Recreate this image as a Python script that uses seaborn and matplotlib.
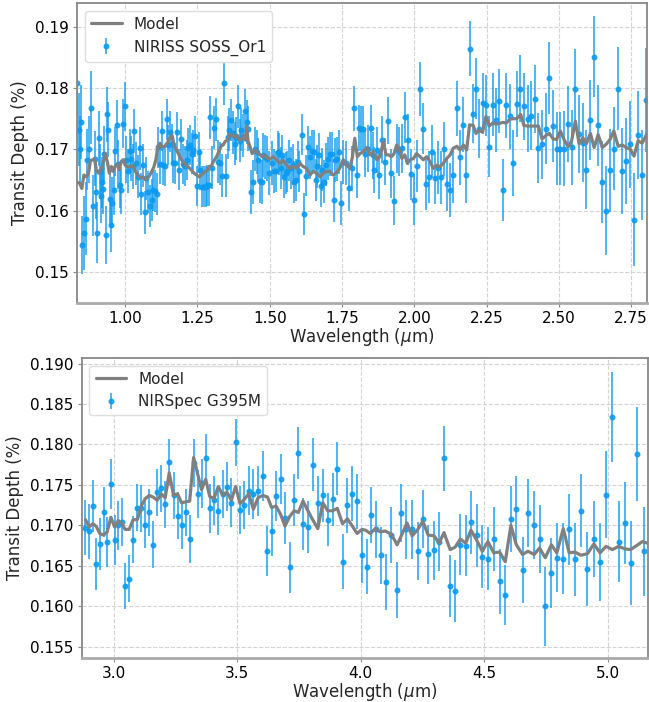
# -----------------------------
# Transmission spectrum: NIRISS SOSS + NIRSpec G395M
# -----------------------------

import numpy as np
import pandas as pd
import matplotlib
matplotlib.use("Agg")
import matplotlib.pyplot as plt
from matplotlib.ticker import MultipleLocator
import seaborn as sns

# -----------------------------
# 1. Data
# -----------------------------

# NIRISS SOSS order 1
soss_wl = [
    0.834, 0.841, 0.844, 0.848, 0.850, 0.859, 0.865, 0.868, 0.876, 0.882,
    0.888, 0.894, 0.900, 0.903, 0.908, 0.913, 0.917, 0.920, 0.923, 0.926,
    0.932, 0.936, 0.940, 0.946, 0.952, 0.954, 0.961, 0.965, 0.970, 0.976,
    0.982, 0.987, 0.993, 0.998, 1.003, 1.009, 1.015, 1.021, 1.027, 1.032,
    1.038, 1.044, 1.051, 1.055, 1.061, 1.067, 1.073, 1.079, 1.085, 1.091,
    1.097, 1.103, 1.109, 1.115, 1.120, 1.126, 1.132, 1.137, 1.143, 1.149,
    1.155, 1.161, 1.166, 1.172, 1.179, 1.185, 1.194, 1.201, 1.207, 1.212,
    1.218, 1.224, 1.230, 1.236, 1.241, 1.247, 1.254, 1.260, 1.267, 1.273,
    1.278, 1.284, 1.290, 1.294, 1.301, 1.308, 1.315, 1.322, 1.328, 1.334,
    1.342, 1.349, 1.355, 1.360, 1.366, 1.372, 1.378, 1.383, 1.390, 1.396,
    1.402, 1.408, 1.415, 1.420, 1.425, 1.436, 1.443, 1.449, 1.455, 1.461,
    1.467, 1.472, 1.478, 1.484, 1.491, 1.498, 1.506, 1.513, 1.521, 1.527,
    1.532, 1.538, 1.544, 1.550, 1.555, 1.561, 1.567, 1.573, 1.579, 1.584,
    1.590, 1.596, 1.602, 1.610, 1.617, 1.625, 1.633, 1.640, 1.645, 1.652,
    1.659, 1.665, 1.671, 1.677, 1.682, 1.688, 1.696, 1.702, 1.708, 1.714,
    1.721, 1.726, 1.732, 1.738, 1.747, 1.755, 1.764, 1.775, 1.783, 1.793,
    1.803, 1.809, 1.815, 1.821, 1.831, 1.841, 1.850, 1.856, 1.861, 1.870,
    1.879, 1.889, 1.898, 1.909, 1.918, 1.928, 1.939, 1.948, 1.957, 1.968,
    1.977, 1.990, 1.998, 2.009, 2.018, 2.029, 2.039, 2.050, 2.060, 2.070,
    2.081, 2.092, 2.103, 2.114, 2.125, 2.135, 2.147, 2.157, 2.169, 2.180,
    2.191, 2.203, 2.213, 2.225, 2.236, 2.248, 2.259, 2.271, 2.282, 2.294,
    2.305, 2.318, 2.330, 2.342, 2.354, 2.367, 2.379, 2.392, 2.405, 2.416,
    2.429, 2.442, 2.454, 2.467, 2.480, 2.493, 2.505, 2.519, 2.532, 2.544,
    2.557, 2.569, 2.582, 2.595, 2.608, 2.621, 2.636, 2.650, 2.663, 2.677,
    2.690, 2.705, 2.719, 2.733, 2.747, 2.760, 2.774, 2.788, 2.803,
]
soss_depth = [
    0.1809, 0.1732, 0.1700, 0.1745, 0.1544, 0.1563, 0.1587, 0.1683, 0.1700, 0.1768,
    0.1608, 0.1685, 0.1631, 0.1564, 0.1718, 0.1664, 0.1624, 0.1646, 0.1636, 0.1693,
    0.1560, 0.1757, 0.1732, 0.1619, 0.1577, 0.1613, 0.1633, 0.1697, 0.1739, 0.1676,
    0.1642, 0.1633, 0.1742, 0.1770, 0.1683, 0.1665, 0.1698, 0.1685, 0.1672, 0.1730,
    0.1677, 0.1655, 0.1702, 0.1627, 0.1674, 0.1597, 0.1653, 0.1630, 0.1607, 0.1617,
    0.1634, 0.1632, 0.1627, 0.1703, 0.1676, 0.1730, 0.1674, 0.1673, 0.1749, 0.1707,
    0.1729, 0.1709, 0.1678, 0.1677, 0.1728, 0.1667, 0.1717, 0.1676, 0.1673, 0.1683,
    0.1702, 0.1707, 0.1693, 0.1699, 0.1721, 0.1640, 0.1695, 0.1667, 0.1639, 0.1639,
    0.1639, 0.1641, 0.1641, 0.1752, 0.1670, 0.1735, 0.1749, 0.1680, 0.1677, 0.1657,
    0.1808, 0.1657, 0.1720, 0.1732, 0.1748, 0.1727, 0.1709, 0.1718, 0.1770, 0.1714,
    0.1732, 0.1722, 0.1763, 0.1745, 0.1734, 0.1631, 0.1647, 0.1700, 0.1696, 0.1683,
    0.1649, 0.1647, 0.1690, 0.1688, 0.1685, 0.1661, 0.1677, 0.1665, 0.1664, 0.1696,
    0.1692, 0.1669, 0.1690, 0.1655, 0.1661, 0.1664, 0.1682, 0.1669, 0.1675, 0.1647,
    0.1650, 0.1680, 0.1664, 0.1724, 0.1594, 0.1657, 0.1703, 0.1687, 0.1697, 0.1696,
    0.1650, 0.1672, 0.1691, 0.1640, 0.1667, 0.1647, 0.1675, 0.1685, 0.1692, 0.1693,
    0.1618, 0.1683, 0.1684, 0.1696, 0.1612, 0.1680, 0.1677, 0.1637, 0.1669, 0.1767,
    0.1658, 0.1735, 0.1734, 0.1733, 0.1693, 0.1701, 0.1735, 0.1690, 0.1666, 0.1699,
    0.1658, 0.1716, 0.1680, 0.1747, 0.1661, 0.1616, 0.1702, 0.1697, 0.1702, 0.1752,
    0.1716, 0.1659, 0.1618, 0.1673, 0.1798, 0.1734, 0.1643, 0.1655, 0.1696, 0.1653,
    0.1670, 0.1654, 0.1700, 0.1643, 0.1634, 0.1658, 0.1767, 0.1687, 0.1740, 0.1658,
    0.1864, 0.1758, 0.1799, 0.1734, 0.1775, 0.1772, 0.1704, 0.1773, 0.1748, 0.1779,
    0.1634, 0.1772, 0.1754, 0.1677, 0.1774, 0.1799, 0.1770, 0.1750, 0.1755, 0.1782,
    0.1702, 0.1708, 0.1734, 0.1817, 0.1738, 0.1701, 0.1701, 0.1701, 0.1741, 0.1703,
    0.1799, 0.1725, 0.1711, 0.1667, 0.1748, 0.1851, 0.1739, 0.1647, 0.1600, 0.1666,
    0.1701, 0.1799, 0.1665, 0.1681, 0.1708, 0.1585, 0.1723, 0.1658, 0.1780,
]
soss_err = [
    0.0086, 0.0060, 0.0055, 0.0060, 0.0047, 0.0060, 0.0060, 0.0050, 0.0055, 0.0060,
    0.0050, 0.0045, 0.0045, 0.0050, 0.0045, 0.0045, 0.0045, 0.0042, 0.0042, 0.0045,
    0.0048, 0.0045, 0.0045, 0.0042, 0.0045, 0.0042, 0.0040, 0.0040, 0.0042, 0.0040,
    0.0038, 0.0038, 0.0040, 0.0040, 0.0038, 0.0036, 0.0036, 0.0036, 0.0036, 0.0036,
    0.0035, 0.0035, 0.0035, 0.0035, 0.0035, 0.0035, 0.0035, 0.0034, 0.0034, 0.0034,
    0.0034, 0.0034, 0.0034, 0.0034, 0.0033, 0.0033, 0.0033, 0.0033, 0.0033, 0.0033,
    0.0033, 0.0033, 0.0033, 0.0033, 0.0033, 0.0033, 0.0033, 0.0033, 0.0033, 0.0033,
    0.0033, 0.0033, 0.0033, 0.0033, 0.0033, 0.0033, 0.0033, 0.0033, 0.0033, 0.0033,
    0.0033, 0.0033, 0.0033, 0.0035, 0.0035, 0.0035, 0.0035, 0.0035, 0.0035, 0.0035,
    0.0035, 0.0035, 0.0035, 0.0035, 0.0035, 0.0035, 0.0035, 0.0035, 0.0035, 0.0035,
    0.0035, 0.0035, 0.0036, 0.0036, 0.0036, 0.0036, 0.0036, 0.0036, 0.0036, 0.0036,
    0.0036, 0.0036, 0.0036, 0.0036, 0.0036, 0.0036, 0.0036, 0.0036, 0.0034, 0.0034,
    0.0034, 0.0034, 0.0034, 0.0034, 0.0034, 0.0034, 0.0034, 0.0034, 0.0034, 0.0034,
    0.0034, 0.0034, 0.0034, 0.0034, 0.0034, 0.0034, 0.0035, 0.0035, 0.0035, 0.0035,
    0.0035, 0.0035, 0.0035, 0.0035, 0.0035, 0.0035, 0.0035, 0.0035, 0.0036, 0.0036,
    0.0036, 0.0036, 0.0036, 0.0036, 0.0036, 0.0036, 0.0036, 0.0037, 0.0037, 0.0037,
    0.0037, 0.0037, 0.0037, 0.0037, 0.0038, 0.0038, 0.0038, 0.0038, 0.0038, 0.0038,
    0.0039, 0.0039, 0.0039, 0.0039, 0.0040, 0.0040, 0.0040, 0.0040, 0.0040, 0.0041,
    0.0041, 0.0041, 0.0042, 0.0042, 0.0044, 0.0042, 0.0042, 0.0043, 0.0043, 0.0043,
    0.0043, 0.0044, 0.0044, 0.0044, 0.0044, 0.0045, 0.0045, 0.0045, 0.0045, 0.0045,
    0.0045, 0.0048, 0.0050, 0.0048, 0.0050, 0.0050, 0.0050, 0.0052, 0.0052, 0.0052,
    0.0051, 0.0053, 0.0053, 0.0054, 0.0054, 0.0055, 0.0055, 0.0055, 0.0056, 0.0056,
    0.0057, 0.0057, 0.0058, 0.0059, 0.0059, 0.0060, 0.0060, 0.0061, 0.0062, 0.0062,
    0.0065, 0.0063, 0.0064, 0.0064, 0.0065, 0.0066, 0.0066, 0.0067, 0.0072, 0.0068,
    0.0068, 0.0068, 0.0070, 0.0070, 0.0071, 0.0076, 0.0072, 0.0074, 0.0085,
]

soss_model_wl = [
    0.834, 0.842, 0.850, 0.857, 0.865, 0.873, 0.880, 0.888, 0.894, 0.900,
    0.908, 0.915, 0.923, 0.931, 0.938, 0.945, 0.952, 0.958, 0.965, 0.972,
    0.979, 0.986, 0.993, 1.000, 1.009, 1.018, 1.027, 1.032, 1.044, 1.053,
    1.061, 1.069, 1.079, 1.085, 1.092, 1.099, 1.106, 1.113, 1.120, 1.127,
    1.136, 1.145, 1.154, 1.162, 1.169, 1.177, 1.185, 1.192, 1.199, 1.206,
    1.212, 1.219, 1.229, 1.238, 1.247, 1.256, 1.263, 1.270, 1.277, 1.284,
    1.291, 1.298, 1.305, 1.312, 1.319, 1.326, 1.333, 1.339, 1.346, 1.353,
    1.360, 1.367, 1.374, 1.381, 1.388, 1.395, 1.402, 1.409, 1.416, 1.420,
    1.425, 1.432, 1.439, 1.446, 1.453, 1.460, 1.467, 1.473, 1.483, 1.492,
    1.501, 1.512, 1.523, 1.535, 1.546, 1.558, 1.569, 1.581, 1.592, 1.604,
    1.615, 1.627, 1.639, 1.650, 1.662, 1.673, 1.685, 1.696, 1.708, 1.719,
    1.731, 1.742, 1.754, 1.766, 1.777, 1.786, 1.794, 1.803, 1.812, 1.823,
    1.835, 1.846, 1.858, 1.870, 1.881, 1.893, 1.902, 1.911, 1.921, 1.930,
    1.939, 1.948, 1.957, 1.967, 1.976, 1.985, 1.997, 2.008, 2.020, 2.031,
    2.043, 2.054, 2.066, 2.077, 2.089, 2.100, 2.112, 2.124, 2.135, 2.147,
    2.158, 2.170, 2.181, 2.191, 2.204, 2.213, 2.225, 2.236, 2.248, 2.259,
    2.271, 2.282, 2.294, 2.305, 2.318, 2.330, 2.342, 2.354, 2.368, 2.379,
    2.392, 2.405, 2.416, 2.429, 2.442, 2.454, 2.467, 2.480, 2.492, 2.505,
    2.519, 2.532, 2.544, 2.557, 2.570, 2.583, 2.595, 2.609, 2.622, 2.636,
    2.650, 2.663, 2.677, 2.690, 2.705, 2.719, 2.733, 2.747, 2.760, 2.774,
    2.788, 2.803,
]
soss_model_depth = [
    0.1646, 0.1645, 0.1636, 0.1658, 0.1655, 0.1661, 0.1682, 0.1683, 0.1685, 0.1666,
    0.1661, 0.1666, 0.1677, 0.1693, 0.1680, 0.1661, 0.1672, 0.1664, 0.1672, 0.1676,
    0.1667, 0.1680, 0.1683, 0.1674, 0.1671, 0.1672, 0.1674, 0.1666, 0.1658, 0.1653,
    0.1655, 0.1651, 0.1654, 0.1658, 0.1664, 0.1671, 0.1683, 0.1705, 0.1710, 0.1703,
    0.1705, 0.1710, 0.1718, 0.1723, 0.1707, 0.1699, 0.1692, 0.1685, 0.1680, 0.1677,
    0.1673, 0.1671, 0.1666, 0.1661, 0.1658, 0.1655, 0.1658, 0.1661, 0.1664, 0.1666,
    0.1672, 0.1673, 0.1680, 0.1685, 0.1691, 0.1699, 0.1707, 0.1707, 0.1713, 0.1715,
    0.1722, 0.1725, 0.1720, 0.1721, 0.1723, 0.1715, 0.1716, 0.1723, 0.1715, 0.1738,
    0.1713, 0.1704, 0.1693, 0.1696, 0.1699, 0.1693, 0.1691, 0.1688, 0.1691, 0.1685,
    0.1684, 0.1688, 0.1683, 0.1677, 0.1682, 0.1674, 0.1669, 0.1672, 0.1669, 0.1677,
    0.1672, 0.1669, 0.1658, 0.1664, 0.1661, 0.1655, 0.1661, 0.1664, 0.1664, 0.1658,
    0.1662, 0.1669, 0.1683, 0.1674, 0.1669, 0.1688, 0.1718, 0.1688, 0.1693, 0.1696,
    0.1703, 0.1691, 0.1696, 0.1683, 0.1688, 0.1713, 0.1691, 0.1691, 0.1688, 0.1693,
    0.1707, 0.1699, 0.1685, 0.1691, 0.1677, 0.1683, 0.1685, 0.1693, 0.1688, 0.1683,
    0.1688, 0.1680, 0.1669, 0.1674, 0.1672, 0.1677, 0.1685, 0.1691, 0.1702, 0.1705,
    0.1699, 0.1707, 0.1699, 0.1740, 0.1739, 0.1726, 0.1731, 0.1728, 0.1754, 0.1738,
    0.1743, 0.1741, 0.1742, 0.1744, 0.1743, 0.1749, 0.1750, 0.1750, 0.1757, 0.1739,
    0.1738, 0.1738, 0.1738, 0.1738, 0.1717, 0.1722, 0.1726, 0.1717, 0.1716, 0.1730,
    0.1715, 0.1704, 0.1714, 0.1746, 0.1709, 0.1719, 0.1709, 0.1726, 0.1703, 0.1724,
    0.1703, 0.1708, 0.1716, 0.1730, 0.1705, 0.1707, 0.1703, 0.1700, 0.1689, 0.1714,
    0.1710, 0.1724,
]

# NIRSpec G395M
g395_wl = [
    2.885, 2.900, 2.915, 2.928, 2.943, 2.958, 2.973, 2.988, 3.003, 3.016,
    3.031, 3.046, 3.062, 3.078, 3.095, 3.111, 3.127, 3.143, 3.159, 3.176,
    3.192, 3.208, 3.224, 3.242, 3.258, 3.274, 3.291, 3.307, 3.323, 3.339,
    3.355, 3.372, 3.388, 3.405, 3.423, 3.441, 3.458, 3.476, 3.493, 3.511,
    3.528, 3.546, 3.565, 3.584, 3.603, 3.622, 3.639, 3.657, 3.676, 3.693,
    3.712, 3.730, 3.747, 3.766, 3.786, 3.805, 3.826, 3.846, 3.866, 3.886,
    3.905, 3.926, 3.946, 3.966, 3.985, 4.005, 4.024, 4.040, 4.061, 4.083,
    4.103, 4.122, 4.145, 4.163, 4.185, 4.207, 4.231, 4.250, 4.273, 4.297,
    4.317, 4.336, 4.362, 4.382, 4.403, 4.425, 4.446, 4.469, 4.492, 4.515,
    4.538, 4.562, 4.585, 4.607, 4.630, 4.655, 4.677, 4.702, 4.725, 4.747,
    4.772, 4.794, 4.820, 4.844, 4.868, 4.893, 4.918, 4.944, 4.969, 4.995,
    5.019, 5.044, 5.069, 5.093, 5.120, 5.145,
]
g395_depth = [
    0.1697, 0.1693, 0.1724, 0.1652, 0.1677, 0.1717, 0.1679, 0.1751, 0.1682, 0.1700,
    0.1704, 0.1625, 0.1634, 0.1682, 0.1722, 0.1721, 0.1701, 0.1716, 0.1676, 0.1741,
    0.1746, 0.1726, 0.1778, 0.1737, 0.1712, 0.1700, 0.1716, 0.1683, 0.1777, 0.1739,
    0.1752, 0.1783, 0.1721, 0.1731, 0.1718, 0.1739, 0.1748, 0.1728, 0.1803, 0.1719,
    0.1725, 0.1743, 0.1739, 0.1743, 0.1761, 0.1668, 0.1693, 0.1736, 0.1757, 0.1709,
    0.1648, 0.1731, 0.1789, 0.1702, 0.1698, 0.1775, 0.1728, 0.1737, 0.1707, 0.1732,
    0.1770, 0.1655, 0.1725, 0.1739, 0.1730, 0.1663, 0.1649, 0.1713, 0.1695, 0.1663,
    0.1630, 0.1688, 0.1620, 0.1715, 0.1695, 0.1695, 0.1668, 0.1708, 0.1664, 0.1669,
    0.1680, 0.1783, 0.1625, 0.1619, 0.1676, 0.1675, 0.1704, 0.1688, 0.1661, 0.1659,
    0.1683, 0.1631, 0.1614, 0.1708, 0.1720, 0.1645, 0.1715, 0.1700, 0.1683, 0.1600,
    0.1641, 0.1660, 0.1659, 0.1695, 0.1658, 0.1718, 0.1646, 0.1683, 0.1655, 0.1738,
    0.1834, 0.1680, 0.1703, 0.1653, 0.1788, 0.1668,
]
g395_err = [
    0.0034, 0.0034, 0.0032, 0.0032, 0.0032, 0.0031, 0.0031, 0.0031, 0.0031, 0.0030,
    0.0030, 0.0029, 0.0029, 0.0029, 0.0029, 0.0029, 0.0029, 0.0029, 0.0029, 0.0029,
    0.0029, 0.0029, 0.0029, 0.0029, 0.0029, 0.0029, 0.0029, 0.0030, 0.0030, 0.0030,
    0.0030, 0.0030, 0.0030, 0.0030, 0.0030, 0.0030, 0.0030, 0.0030, 0.0029, 0.0030,
    0.0030, 0.0030, 0.0031, 0.0031, 0.0031, 0.0031, 0.0031, 0.0031, 0.0031, 0.0032,
    0.0032, 0.0032, 0.0032, 0.0032, 0.0032, 0.0033, 0.0033, 0.0033, 0.0033, 0.0033,
    0.0033, 0.0034, 0.0034, 0.0034, 0.0034, 0.0034, 0.0034, 0.0035, 0.0035, 0.0035,
    0.0035, 0.0035, 0.0035, 0.0036, 0.0036, 0.0036, 0.0036, 0.0036, 0.0037, 0.0037,
    0.0037, 0.0040, 0.0038, 0.0038, 0.0038, 0.0038, 0.0039, 0.0039, 0.0039, 0.0039,
    0.0040, 0.0040, 0.0037, 0.0041, 0.0041, 0.0041, 0.0042, 0.0042, 0.0042, 0.0049,
    0.0043, 0.0043, 0.0044, 0.0044, 0.0045, 0.0045, 0.0046, 0.0047, 0.0048, 0.0054,
    0.0056, 0.0050, 0.0051, 0.0052, 0.0058, 0.0055,
]

g395_model_wl = [
    2.885, 2.900, 2.915, 2.928, 2.943, 2.958, 2.973, 2.988, 3.003, 3.018,
    3.031, 3.046, 3.062, 3.078, 3.095, 3.111, 3.127, 3.143, 3.159, 3.176,
    3.192, 3.208, 3.224, 3.242, 3.258, 3.274, 3.291, 3.307, 3.323, 3.339,
    3.355, 3.372, 3.388, 3.405, 3.423, 3.441, 3.458, 3.476, 3.493, 3.511,
    3.528, 3.546, 3.565, 3.584, 3.603, 3.622, 3.639, 3.657, 3.676, 3.693,
    3.712, 3.730, 3.747, 3.766, 3.786, 3.805, 3.826, 3.846, 3.866, 3.886,
    3.905, 3.926, 3.946, 3.966, 3.985, 4.005, 4.019, 4.039, 4.059, 4.079,
    4.099, 4.124, 4.147, 4.167, 4.187, 4.208, 4.231, 4.251, 4.273, 4.297,
    4.317, 4.337, 4.362, 4.382, 4.403, 4.425, 4.446, 4.469, 4.492, 4.515,
    4.538, 4.562, 4.585, 4.608, 4.630, 4.655, 4.677, 4.702, 4.724, 4.747,
    4.772, 4.794, 4.820, 4.844, 4.868, 4.892, 4.918, 4.944, 4.969, 4.993,
    5.019, 5.044, 5.069, 5.093, 5.117, 5.141, 5.161,
]
g395_model_depth = [
    0.1707, 0.1698, 0.1702, 0.1699, 0.1690, 0.1688, 0.1692, 0.1710, 0.1698, 0.1706,
    0.1702, 0.1695, 0.1695, 0.1707, 0.1707, 0.1724, 0.1733, 0.1737, 0.1735, 0.1731,
    0.1739, 0.1734, 0.1765, 0.1737, 0.1739, 0.1728, 0.1729, 0.1730, 0.1784, 0.1764,
    0.1744, 0.1757, 0.1736, 0.1733, 0.1748, 0.1737, 0.1741, 0.1731, 0.1748, 0.1727,
    0.1732, 0.1739, 0.1720, 0.1734, 0.1737, 0.1735, 0.1722, 0.1724, 0.1713, 0.1699,
    0.1711, 0.1718, 0.1716, 0.1730, 0.1718, 0.1707, 0.1696, 0.1728, 0.1718, 0.1718,
    0.1721, 0.1702, 0.1708, 0.1699, 0.1690, 0.1695, 0.1694, 0.1690, 0.1696, 0.1692,
    0.1693, 0.1689, 0.1676, 0.1689, 0.1703, 0.1687, 0.1695, 0.1705, 0.1688, 0.1687,
    0.1678, 0.1691, 0.1670, 0.1673, 0.1683, 0.1678, 0.1694, 0.1682, 0.1668, 0.1680,
    0.1666, 0.1667, 0.1655, 0.1700, 0.1676, 0.1664, 0.1668, 0.1664, 0.1672, 0.1660,
    0.1676, 0.1666, 0.1696, 0.1666, 0.1667, 0.1663, 0.1665, 0.1677, 0.1666, 0.1674,
    0.1670, 0.1674, 0.1671, 0.1670, 0.1675, 0.1680, 0.1678,
]

# -----------------------------
# 2. Style
# -----------------------------
sns.set_style("whitegrid", {
    "grid.linestyle": "--",
    "grid.color": "#d3d3d3",
    "axes.edgecolor": "#888888",
})
plt.rcParams["font.family"] = ["DejaVu Sans"]
plt.rcParams["font.size"] = 11

data_color = "#0a9af0"
model_color = "grey"

fig = plt.figure(figsize=(6.49, 7.02), dpi=100)
ax_top = fig.add_axes([0.119, 0.5684, 0.878, 0.4273])
ax_bot = fig.add_axes([0.126, 0.0627, 0.872, 0.4274])

panels = [
    (ax_top, soss_wl, soss_depth, soss_err, soss_model_wl, soss_model_depth,
     "NIRISS SOSS_Or1", (0.834, 2.805), (0.1449, 0.1939), 0.25, 0.01),
    (ax_bot, g395_wl, g395_depth, g395_err, g395_model_wl, g395_model_depth,
     "NIRSpec G395M", (2.870, 5.162), (0.1536, 0.1907), 0.5, 0.005),
]

# -----------------------------
# 3. Plot
# -----------------------------
for ax, wl, depth, err, mwl, mdepth, name, xlim, ylim, xstep, ystep in panels:
    model_df = pd.DataFrame({"wl": mwl, "depth": mdepth})
    sns.lineplot(data=model_df, x="wl", y="depth", ax=ax, color=model_color,
                 linewidth=2.3, label="Model", zorder=3, legend=False)
    ax.errorbar(wl, depth, yerr=err, fmt="o", color=data_color, markersize=3.3,
                ecolor=data_color, elinewidth=1.2, alpha=0.85, capsize=0,
                label=name, zorder=2)

    ax.set_xlim(*xlim)
    ax.set_ylim(*ylim)
    ax.xaxis.set_major_locator(MultipleLocator(xstep))
    ax.yaxis.set_major_locator(MultipleLocator(ystep))
    ax.set_xlabel(r"Wavelength ($\mu$m)", fontsize=12, labelpad=0)
    ax.set_ylabel("Transit Depth (%)", fontsize=12, labelpad=4)
    ax.tick_params(axis="both", labelsize=11, length=3, color="#888888",
                   left=True, bottom=True, pad=3)
    ax.tick_params(axis="both", labelcolor="black")
    ax.grid(True, linestyle="--", color="#d3d3d3", linewidth=0.8)
    for side in ["left", "top", "right"]:
        ax.spines[side].set_color("#888888")
        ax.spines[side].set_linewidth(1.3)
    ax.spines["bottom"].set_color("#aaaaaa")
    ax.spines["bottom"].set_linewidth(2.0)

    ax.legend(loc="upper left", fontsize=11, frameon=True,
              edgecolor="#dddddd", framealpha=1.0)

ax_top.yaxis.set_major_formatter(plt.FormatStrFormatter("%.2f"))
ax_top.xaxis.set_major_formatter(plt.FormatStrFormatter("%.2f"))
ax_bot.yaxis.set_major_formatter(plt.FormatStrFormatter("%.3f"))
ax_bot.xaxis.set_major_formatter(plt.FormatStrFormatter("%.1f"))

fig.savefig("out.png", dpi=100)
